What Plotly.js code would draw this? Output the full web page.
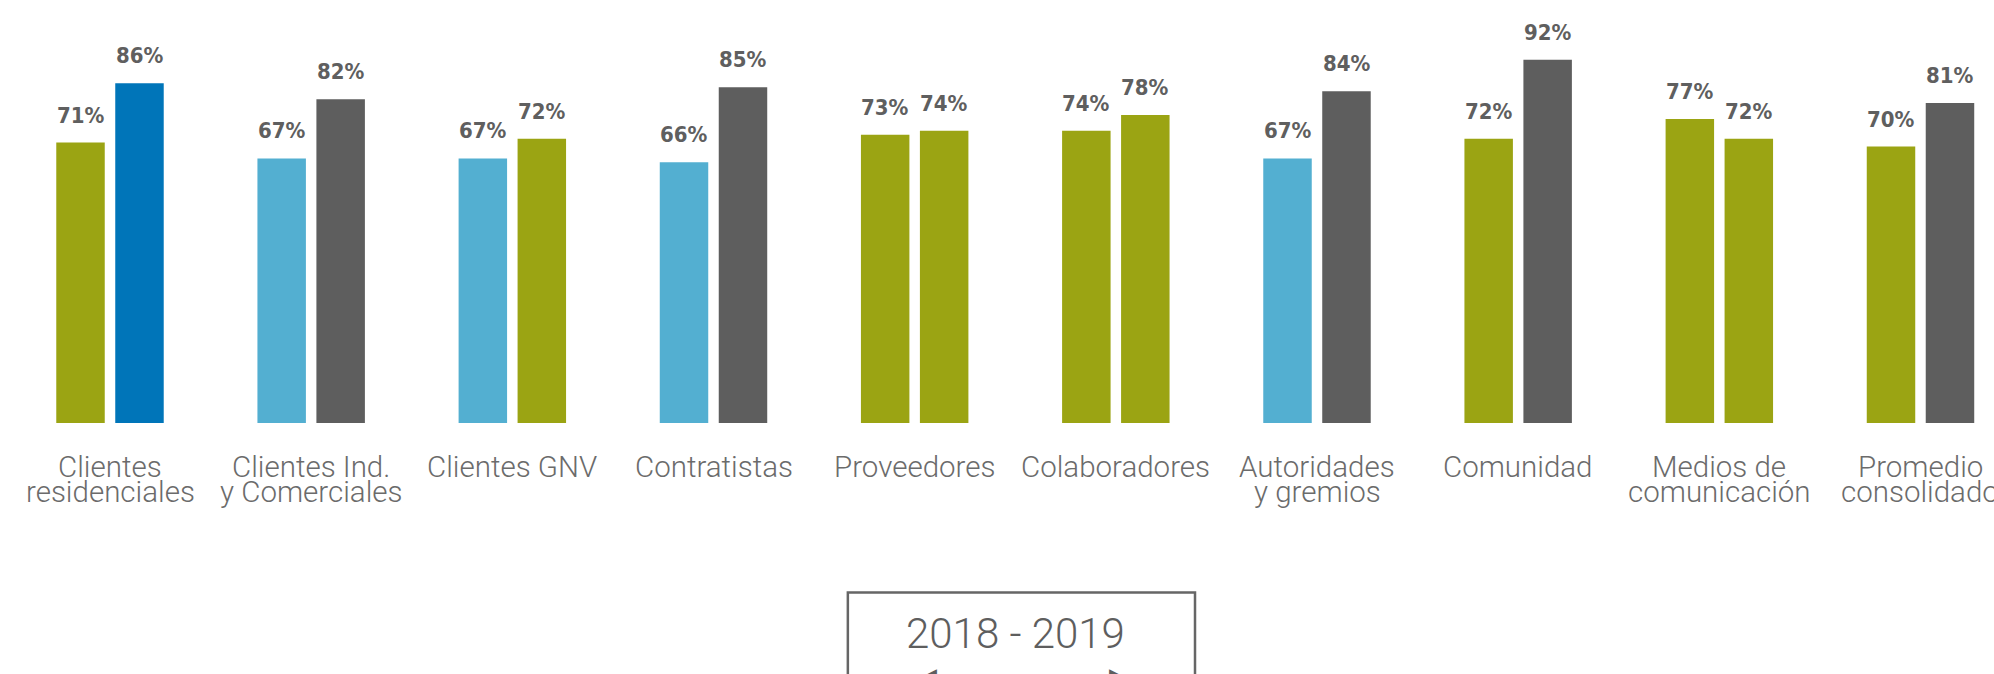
<!DOCTYPE html>
<html>
<head>
<meta charset="utf-8">
<script src="https://cdn.plot.ly/plotly-3.0.1.min.js"></script>
<style>
html,body{margin:0;padding:0;background:#fff;}
#chart{width:1994px;height:674px;}
</style>
</head>
<body>
<div id="chart"></div>
<script>
var categories = ['Clientes<br>residenciales','Clientes Ind.<br>y Comerciales','Clientes GNV','Contratistas','Proveedores','Colaboradores','Autoridades<br>y gremios','Comunidad','Medios de<br>comunicación','Promedio<br>consolidado'];
var firstValues = [71, 67, 67, 66, 73, 74, 67, 72, 77, 70];
var secondValues = [86, 82, 72, 85, 74, 78, 84, 92, 72, 81];
var OLIVE = '#9ba413', LBLUE = '#53afd1', BLUE = '#0075b9', GRAY = '#5e5e5e';
var firstColors = [OLIVE, LBLUE, LBLUE, LBLUE, OLIVE, OLIVE, LBLUE, OLIVE, OLIVE, OLIVE];
var secondColors = [BLUE, GRAY, OLIVE, GRAY, OLIVE, OLIVE, GRAY, GRAY, OLIVE, GRAY];
var periodLabel = '2018 - 2019';

var traces = [
  {type:'bar', x:categories, y:firstValues, marker:{color:firstColors}, hoverinfo:'skip', showlegend:false},
  {type:'bar', x:categories, y:secondValues, marker:{color:secondColors}, hoverinfo:'skip', showlegend:false}
];

var annotations = [];
var valFont = {family:'"DejaVu Sans Condensed", "DejaVu Sans", sans-serif', size:22, color:'#5f5f5f', weight:'bold'};
[firstValues, secondValues].forEach(function(vals, t){
  vals.forEach(function(v, i){
    annotations.push({x:categories[i], y:v, xref:'x', yref:'y', text:v+'%', showarrow:false,
      xanchor:'center', yanchor:'bottom', xshift:(t===0?-29.5:29.5), yshift:13, font:valFont});
  });
});

var catFont = {family:'Roboto, "DejaVu Sans Condensed", sans-serif', size:29.5, color:'#6b6b6b', weight:300};
categories.forEach(function(c){
  var lines = c.split('<br>');
  lines.forEach(function(line, j){
    annotations.push({x:c, y:0, xref:'x', yref:'paper', text:line, showarrow:false,
      xanchor:'center', yanchor:'top', yshift:-24.7 - 25.5*j, font:catFont});
  });
});

annotations.push({x:0.5094, y:-0.498, xref:'paper', yref:'paper', text:periodLabel, showarrow:false,
  xanchor:'center', yanchor:'middle', font:{family:'Roboto, sans-serif', size:42, color:'#5e5e5e', weight:300}});
annotations.push({x:0.4649, y:-0.560, xref:'paper', yref:'paper', text:'◀', showarrow:false,
  xanchor:'center', yanchor:'top', font:{family:'DejaVu Sans, sans-serif', size:26, color:'#5e5e5e'}});
annotations.push({x:0.5612, y:-0.560, xref:'paper', yref:'paper', text:'▶', showarrow:false,
  xanchor:'center', yanchor:'top', font:{family:'DejaVu Sans, sans-serif', size:26, color:'#5e5e5e'}});

var layout = {
  width:1994, height:674,
  margin:{l:0, r:0, t:0, b:251, pad:0},
  paper_bgcolor:'#fff', plot_bgcolor:'#fff',
  barmode:'group', bargap:0.4136, bargroupgap:0.178,
  xaxis:{type:'category', range:[-0.5468, 9.3654], showgrid:false, zeroline:false, showticklabels:false, showline:false, ticks:'', fixedrange:true},
  yaxis:{range:[0, 107.1], showgrid:false, zeroline:false, showticklabels:false, showline:false, ticks:'', fixedrange:true},
  annotations:annotations,
  shapes:[{type:'rect', xref:'paper', yref:'paper', x0:0.4252, x1:0.5993, y0:-0.401, y1:-0.65,
    line:{color:'#666666', width:2.5}, fillcolor:'rgba(0,0,0,0)', layer:'above'}]
};

Plotly.newPlot('chart', traces, layout, {staticPlot:true, displayModeBar:false});
</script>
</body>
</html>
